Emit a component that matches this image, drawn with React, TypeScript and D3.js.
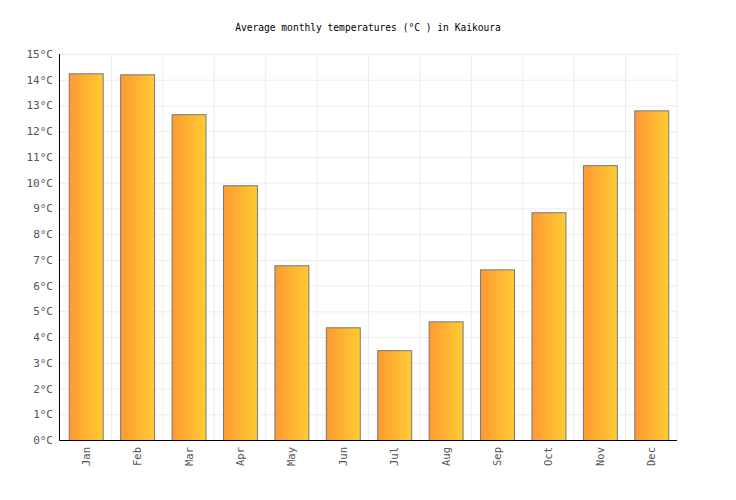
import * as d3 from "d3"
import { useEffect, useRef } from "react"

const months = ["Jan", "Feb", "Mar", "Apr", "May", "Jun", "Jul", "Aug", "Sep", "Oct", "Nov", "Dec"]
const temperatures = [14.25, 14.21, 12.66, 9.9, 6.79, 4.38, 3.49, 4.61, 6.63, 8.85, 10.68, 12.81]
const yTicks = [0, 1, 2, 3, 4, 5, 6, 7, 8, 9, 10, 11, 12, 13, 14, 15]
const title = "Average monthly temperatures (°C ) in Kaikoura"

const App: React.FC = () => {
  const svgRef = useRef<SVGSVGElement | null>(null)

  useEffect(() => {
    if (!svgRef.current) return

    const svg = d3.select(svgRef.current)
    svg.selectAll("*").remove()

    const width = 736
    const height = 500
    const margin = { top: 54, right: 59, bottom: 60, left: 60 }
    const innerW = width - margin.left - margin.right
    const innerH = height - margin.top - margin.bottom
    const font = "11px 'DejaVu Sans Mono', monospace"

    svg.attr("width", width).attr("height", height)

    // Gradient for bars
    const grad = svg
      .append("defs")
      .append("linearGradient")
      .attr("id", "barGrad")
      .attr("x1", "0%")
      .attr("x2", "100%")
      .attr("y1", "0%")
      .attr("y2", "0%")
    grad.append("stop").attr("offset", "0%").attr("stop-color", "#ff9933")
    grad.append("stop").attr("offset", "100%").attr("stop-color", "#ffcc33")

    // Title
    svg
      .append("text")
      .attr("x", width / 2)
      .attr("y", 31)
      .attr("text-anchor", "middle")
      .style("font", "9.6px 'DejaVu Sans Mono', monospace")
      .attr("fill", "#000")
      .text(title)

    const chart = svg
      .append("g")
      .attr("transform", `translate(${margin.left},${margin.top})`)

    // Scales
    const x = d3.scaleBand().domain(months).range([0, innerW]).paddingInner(0.34).paddingOuter(0.17)
    const band = d3.scaleBand().domain(months).range([0, innerW]).padding(0)
    const y = d3.scaleLinear().domain([0, 15]).range([innerH, 0])

    // Grid lines
    chart
      .selectAll(".hgrid")
      .data(yTicks)
      .enter()
      .append("line")
      .attr("x1", 0)
      .attr("x2", innerW)
      .attr("y1", (d) => y(d) + 0.5)
      .attr("y2", (d) => y(d) + 0.5)
      .attr("stroke", "#ececec")
      .attr("stroke-width", 1)

    chart
      .selectAll(".vgrid")
      .data(months)
      .enter()
      .append("line")
      .attr("x1", (d) => band(d)! + band.bandwidth())
      .attr("x2", (d) => band(d)! + band.bandwidth())
      .attr("y1", 0)
      .attr("y2", innerH)
      .attr("stroke", "#ececec")
      .attr("stroke-width", 1)

    // Bars
    chart
      .selectAll(".bar")
      .data(temperatures)
      .enter()
      .append("rect")
      .attr("x", (d, i) => x(months[i])! + 0.5)
      .attr("y", (d) => y(d) + 0.5)
      .attr("width", x.bandwidth())
      .attr("height", (d) => innerH - y(d))
      .attr("fill", "url(#barGrad)")
      .attr("stroke", "#777")
      .attr("stroke-width", 1)

    // Y axis labels
    chart
      .selectAll(".ylabel")
      .data(yTicks)
      .enter()
      .append("text")
      .attr("x", -7)
      .attr("y", (d) => y(d) + 4)
      .attr("text-anchor", "end")
      .style("font", font)
      .attr("fill", "#555")
      .text((d) => `${d}°C`)

    // X axis labels
    chart
      .selectAll(".xlabel")
      .data(months)
      .enter()
      .append("text")
      .attr(
        "transform",
        (d) => `translate(${band(d)! + band.bandwidth() / 2 + 4},${innerH + 7}) rotate(-90)`,
      )
      .attr("text-anchor", "end")
      .style("font", "10.5px 'DejaVu Sans Mono', monospace")
      .attr("fill", "#555")
      .text((d) => d)

    // Axis lines
    chart
      .append("line")
      .attr("x1", -0.5)
      .attr("x2", -0.5)
      .attr("y1", 0)
      .attr("y2", innerH + 0.5)
      .attr("stroke", "#000")
    chart
      .append("line")
      .attr("x1", -0.5)
      .attr("x2", innerW)
      .attr("y1", innerH + 0.5)
      .attr("y2", innerH + 0.5)
      .attr("stroke", "#000")
  }, [])

  return <svg ref={svgRef} style={{ display: "block", position: "absolute", left: 0, top: 0 }} />
}

export default App
